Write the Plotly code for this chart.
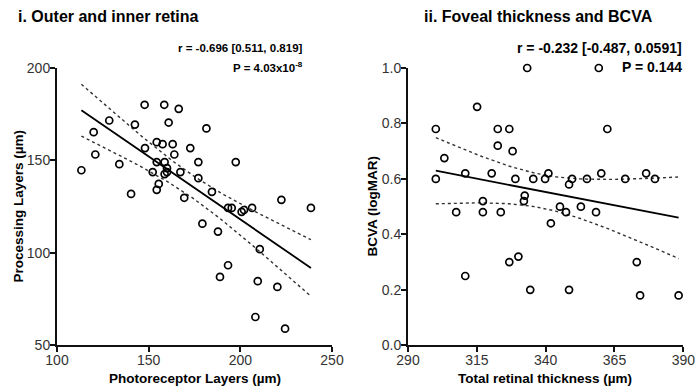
import numpy as np
import plotly.graph_objects as go

# ---------------- Data ----------------
# Panel i: Photoreceptor layers (um) vs Processing layers (um)
photo_x = [147.8, 158.5, 166.4, 128.5, 142.5, 160.9, 181.5, 120.0, 154.4, 157.6,
           163.1, 148.0, 172.7, 120.9, 164.0, 134.0, 113.3, 154.4, 158.7, 160.0,
           177.1, 197.5, 152.2, 158.7, 160.0, 167.3, 177.1, 155.5, 154.4, 140.4,
           169.4, 184.5, 222.4, 238.5, 193.3, 195.3, 200.7, 202.0, 206.4, 179.3,
           187.8, 210.6, 193.3, 188.9, 209.5, 220.2, 208.2, 224.4]
proc_y = [180.1, 180.1, 177.9, 171.6, 169.4, 170.5, 167.3, 165.3, 159.9, 158.8,
          158.8, 156.7, 156.7, 153.2, 153.2, 148.0, 144.7, 149.1, 149.1, 145.8,
          149.1, 149.1, 143.7, 142.6, 143.7, 143.7, 140.4, 137.3, 134.1, 131.9,
          129.8, 133.0, 128.7, 124.3, 124.3, 124.3, 122.2, 123.2, 124.3, 115.8,
          111.5, 102.0, 93.3, 87.0, 84.7, 81.6, 65.3, 59.0]

# Panel ii: Total retinal thickness (um) vs BCVA (logMAR)
total_x = [333.3, 359.3, 315.1, 300.1, 322.6, 326.8, 362.4, 322.6, 328.0, 303.2,
           300.1, 310.8, 320.4, 329.0, 335.5, 339.8, 341.0, 349.6, 348.5, 355.0,
           360.2, 368.9, 376.5, 379.7, 332.4, 332.1, 317.2, 307.5, 317.2, 323.7,
           345.2, 347.4, 352.8, 358.3, 341.9, 310.8, 326.8, 330.1, 334.4, 348.5,
           373.1, 374.3, 388.3]
bcva_y = [1.00, 1.00, 0.86, 0.78, 0.78, 0.78, 0.78, 0.72, 0.70, 0.675,
          0.60, 0.62, 0.62, 0.60, 0.60, 0.60, 0.62, 0.60, 0.58, 0.60,
          0.62, 0.60, 0.62, 0.60, 0.54, 0.52, 0.52, 0.48, 0.48, 0.48,
          0.50, 0.48, 0.50, 0.48, 0.44, 0.25, 0.30, 0.32, 0.20, 0.20,
          0.30, 0.18, 0.18]

titles = ["i. Outer and inner retina", "ii. Foveal thickness and BCVA"]
stat_r = ["r = -0.696 [0.511, 0.819]", "r = -0.232 [-0.487, 0.0591]"]
stat_p = ["P = 4.03x10<sup>-8</sup>", "P = 0.144"]
x_titles = ["Photoreceptor Layers (µm)", "Total retinal thickness (µm)"]
y_titles = ["Processing Layers (µm)", "BCVA (logMAR)"]
t_crit = [2.013, 2.020]

FONT = "Liberation Sans, Arial, Helvetica, sans-serif"
W, H = 697, 389


def fit_band(x, y, t):
    x = np.asarray(x, float)
    y = np.asarray(y, float)
    n = len(x)
    b, a = np.polyfit(x, y, 1)
    resid = y - (a + b * x)
    s = np.sqrt(np.sum(resid ** 2) / (n - 2))
    xm = x.mean()
    sxx = np.sum((x - xm) ** 2)
    xs = np.linspace(x.min(), x.max(), 80)
    yf = a + b * xs
    se = s * np.sqrt(1.0 / n + (xs - xm) ** 2 / sxx)
    return xs, yf, yf - t * se, yf + t * se


fig = go.Figure()

panels = [(photo_x, proc_y, "x", "y"), (total_x, bcva_y, "x2", "y2")]
for i, (px, py, xa, ya) in enumerate(panels):
    xs, yf, lo, hi = fit_band(px, py, t_crit[i])
    for band in (lo, hi):
        fig.add_trace(go.Scatter(x=xs, y=band, mode="lines", xaxis=xa, yaxis=ya,
                                 line=dict(color="#333", width=1.4, dash="dot"),
                                 showlegend=False, hoverinfo="skip"))
    fig.add_trace(go.Scatter(x=xs, y=yf, mode="lines", xaxis=xa, yaxis=ya,
                             line=dict(color="black", width=1.8),
                             showlegend=False, hoverinfo="skip"))
    fig.add_trace(go.Scatter(x=px, y=py, mode="markers", xaxis=xa, yaxis=ya,
                             marker=dict(symbol="circle-open", size=7, color="black",
                                         line=dict(width=1.7, color="black")),
                             showlegend=False, cliponaxis=False))

ydom = [1 - 345.3 / H, 1 - 68 / H]
axis_common = dict(showline=True, linewidth=2, linecolor="#111", ticks="outside",
                   ticklen=5, tickwidth=2, tickcolor="#111", showgrid=False,
                   zeroline=False, mirror=False, automargin=False,
                   tickfont=dict(family=FONT, size=14, color="#333"))

fig.update_layout(
    width=W, height=H, margin=dict(l=0, r=0, t=0, b=0, autoexpand=False),
    paper_bgcolor="white", plot_bgcolor="white",
    xaxis=dict(domain=[57 / W, 332 / W], range=[100, 250], tickvals=[100, 150, 200, 250],
               anchor="y", ticklabelstandoff=-4, **axis_common),
    yaxis=dict(domain=ydom, range=[50, 200], tickvals=[50, 100, 150, 200],
               anchor="x", ticklabelstandoff=-3, **axis_common),
    xaxis2=dict(domain=[408 / W, 683.3 / W], range=[290, 390],
                tickvals=[290, 315, 340, 365, 390], anchor="y2",
                ticklabelstandoff=-4, **axis_common),
    yaxis2=dict(domain=ydom, range=[0, 1.0], tickvals=[0, 0.2, 0.4, 0.6, 0.8, 1.0],
                tickformat=".1f", anchor="x2", ticklabelstandoff=-3, **axis_common),
)

ann = []
title_x = [16, 421.5]
stat_right = [305, 684]
stat_size = [11.5, 14]
xt_center = [195, 545]
yt_center = [18, 372]
for i in range(2):
    ann.append(dict(text="<b>%s</b>" % titles[i], x=title_x[i] / W, y=1 - 17 / H,
                    xref="paper", yref="paper", xanchor="left", yanchor="middle",
                    showarrow=False, font=dict(family=FONT, size=16, color="black")))
    ann.append(dict(text="<b>%s</b>" % stat_r[i], x=stat_right[i] / W, y=1 - 48 / H,
                    xref="paper", yref="paper", xanchor="right", yanchor="middle",
                    showarrow=False, font=dict(family=FONT, size=stat_size[i], color="black")))
    ann.append(dict(text="<b>%s</b>" % stat_p[i], x=stat_right[i] / W, y=1 - 67 / H,
                    xref="paper", yref="paper", xanchor="right", yanchor="middle",
                    showarrow=False, font=dict(family=FONT, size=stat_size[i], color="black")))
    ann.append(dict(text="<b>%s</b>" % x_titles[i], x=xt_center[i] / W, y=1 - 378 / H,
                    xref="paper", yref="paper", xanchor="center", yanchor="middle",
                    showarrow=False, font=dict(family=FONT, size=13.5, color="black")))
    ann.append(dict(text="<b>%s</b>" % y_titles[i], x=yt_center[i] / W, y=1 - 206.5 / H,
                    xref="paper", yref="paper", xanchor="center", yanchor="middle",
                    textangle=-90, showarrow=False,
                    font=dict(family=FONT, size=13.5, color="black")))
fig.update_layout(annotations=ann)

fig.write_html("out.html")
